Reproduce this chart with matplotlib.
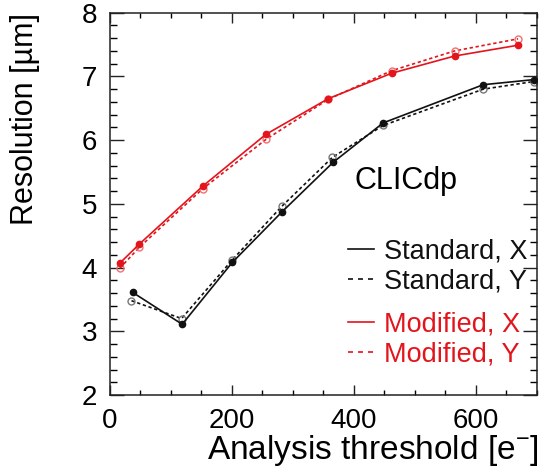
import matplotlib
matplotlib.use("Agg")
import matplotlib.pyplot as plt
from matplotlib.lines import Line2D
from matplotlib import font_manager
from matplotlib.ticker import MultipleLocator

# ---- data ----
std_x_thr = [38, 119, 201, 282, 366, 448, 612, 695]
std_x_res = [3.61, 3.11, 4.08, 4.87, 5.65, 6.27, 6.87, 6.95]
std_y_thr = [36, 118, 201, 282, 365, 448, 612, 695]
std_y_res = [3.48, 3.20, 4.12, 4.96, 5.73, 6.23, 6.80, 6.92]
mod_x_thr = [17, 49, 153, 256, 358, 462, 565, 669]
mod_x_res = [4.07, 4.37, 5.28, 6.09, 6.65, 7.05, 7.32, 7.49]
mod_y_thr = [17, 49, 153, 256, 358, 462, 565, 669]
mod_y_res = [3.99, 4.32, 5.24, 6.01, 6.64, 7.09, 7.40, 7.59]
legend_std = ["Standard, X", "Standard, Y"]
legend_mod = ["Modified, X", "Modified, Y"]

RED = "#e3141b"
BLACK = "#111111"

names = {f.name for f in font_manager.fontManager.ttflist}
main_font = "Liberation Sans" if "Liberation Sans" in names else "DejaVu Sans"

plt.rcParams["font.family"] = [main_font, "DejaVu Sans"]
plt.rcParams["mathtext.fontset"] = "custom"
plt.rcParams["mathtext.rm"] = main_font
plt.rcParams["mathtext.it"] = main_font + ":italic"

fig = plt.figure(figsize=(5.41, 4.67), dpi=100)
ax = fig.add_axes([109.5 / 541, 1 - 395 / 467, 427.5 / 541, 382.3 / 467])

ax.plot(std_x_thr, std_x_res, color=BLACK, lw=1.2, marker="o", ms=4.5,
        mfc=BLACK, mec=BLACK, zorder=3)
ax.plot(std_y_thr, std_y_res, color=BLACK, lw=1.2, ls=(0, (2, 1.6)), marker="o",
        ms=5, mfc="none", mec="#777777", mew=1.0, zorder=2)
ax.plot(mod_x_thr, mod_x_res, color=RED, lw=1.2, marker="o", ms=4.5,
        mfc=RED, mec=RED, zorder=3)
ax.plot(mod_y_thr, mod_y_res, color=RED, lw=1.2, ls=(0, (2, 1.6)), marker="o",
        ms=5, mfc="none", mec="#f07070", mew=1.0, zorder=2)

ax.set_xlim(0, 700)
ax.set_ylim(2, 8)
ax.xaxis.set_major_locator(MultipleLocator(200))
ax.xaxis.set_minor_locator(MultipleLocator(50))
ax.yaxis.set_major_locator(MultipleLocator(1))
ax.yaxis.set_minor_locator(MultipleLocator(0.2))

for s in ax.spines.values():
    s.set_linewidth(1.1)
    s.set_color("#222222")
ax.tick_params(axis="x", which="major", direction="in", length=7.2, width=1.0,
               top=True, labelsize=20, pad=9, colors="#222222")
ax.tick_params(axis="x", which="minor", direction="in", length=3.6, width=1.0, top=True)
ax.tick_params(axis="y", which="major", direction="in", length=10, width=1.0,
               right=True, labelsize=20, pad=9, colors="#222222")
ax.tick_params(axis="y", which="minor", direction="in", length=5, width=1.0, right=True)
for lab in ax.get_xticklabels() + ax.get_yticklabels():
    lab.set_color("black")

ax.set_xlabel(r"Analysis threshold [e$^{-}$]", fontsize=24, loc="right")
ax.xaxis.set_label_coords(1.005, -0.1)
ax.set_ylabel("Resolution [\u00b5m]", fontsize=22, loc="top")
ax.yaxis.set_label_coords(-0.163, 1.0)

ax.text((355 - 109.5) / 427.5, (395 - 189) / 382.3, "CLICdp", fontsize=22,
        transform=ax.transAxes, ha="left", va="baseline")

h_std = [Line2D([], [], color=BLACK, lw=1.2),
         Line2D([], [], color=BLACK, lw=1.2, ls=(0, (3, 3)))]
h_mod = [Line2D([], [], color=RED, lw=1.2),
         Line2D([], [], color=RED, lw=1.2, ls=(0, (3, 3)))]
common = dict(frameon=False, loc="center left", borderpad=0, borderaxespad=0,
              handlelength=0.95, handletextpad=0.38, labelspacing=0.15,
              prop={"family": main_font, "size": 19.5})
leg1 = ax.legend(h_std, legend_std, bbox_to_anchor=(0.558, 0.337),
                 labelcolor=BLACK, **common)
ax.add_artist(leg1)
leg2 = ax.legend(h_mod, legend_mod, bbox_to_anchor=(0.558, 0.146),
                 labelcolor=RED, **common)

fig.savefig("out.png", dpi=100)
